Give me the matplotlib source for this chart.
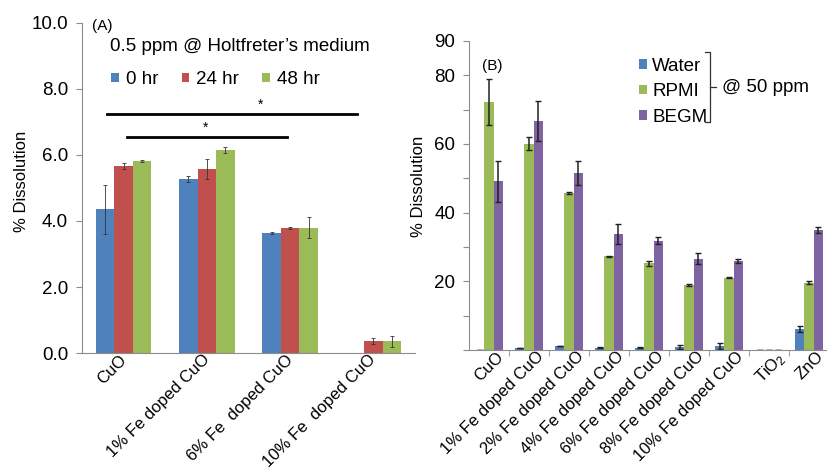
import matplotlib
matplotlib.use("Agg")
import matplotlib.pyplot as plt
import matplotlib.transforms as mtrans
import numpy as np

plt.rcParams['font.family'] = ['Liberation Sans', 'DejaVu Sans']
plt.rcParams['mathtext.default'] = 'regular'

# panel A: 0.5 ppm in Holtfreter's medium
cats_a = ["CuO", "1% Fe doped CuO", "6% Fe  doped CuO", "10% Fe  doped CuO"]
hr0 = [4.35, 5.27, 3.63, 0.0]
hr0_err = [0.73, 0.08, 0.03, 0.0]
hr24 = [5.67, 5.57, 3.80, 0.36]
hr24_err = [0.10, 0.30, 0.03, 0.10]
hr48 = [5.81, 6.15, 3.80, 0.36]
hr48_err = [0.03, 0.08, 0.33, 0.17]

# panel B: 50 ppm in three media
cats_b = ["CuO", "1% Fe doped CuO", "2% Fe doped CuO", "4% Fe doped CuO",
          "6% Fe doped CuO", "8% Fe doped CuO", "10% Fe doped CuO",
          "TiO$_2$", "ZnO"]
water = [0.1, 0.6, 1.2, 0.7, 0.7, 0.8, 1.2, 0.0, 6.1]
water_err = [0.0, 0.1, 0.1, 0.1, 0.1, 0.6, 0.8, 0.0, 0.8]
rpmi = [72.2, 60.1, 45.7, 27.3, 25.2, 19.0, 21.1, 0.0, 19.6]
rpmi_err = [6.8, 2.0, 0.4, 0.2, 0.8, 0.3, 0.2, 0.0, 0.5]
begm = [49.1, 66.6, 51.5, 33.7, 31.8, 26.6, 25.9, 0.0, 35.0]
begm_err = [6.0, 5.8, 3.4, 2.9, 1.0, 1.6, 0.5, 0.0, 0.8]

blue = '#4F81BD'
red = '#C0504D'
green = '#9BBB59'
purple = '#8064A2'
grey = '#8c8c8c'
fs = 13.5
cat_fs = 12

fig = plt.figure(figsize=(8.27, 4.72), dpi=100)


def shift_labels(ax, dx, dy):
    # nudge the rotated category labels (dx, dy in pixels)
    off = mtrans.ScaledTranslation(dx / 100, dy / 100, fig.dpi_scale_trans)
    for lab in ax.get_xticklabels():
        lab.set_transform(lab.get_transform() + off)


# ---------------- panel A ----------------
axA = fig.add_axes([0.0992, 0.2521, 0.4026, 0.6992])
x = np.arange(len(cats_a))
w = 0.222
ekw = dict(elinewidth=0.6, capsize=1.5, capthick=0.6, ecolor='#333333')
axA.bar(x - w, hr0, w, yerr=hr0_err, color=blue, label='0 hr', error_kw=ekw)
axA.bar(x, hr24, w, yerr=hr24_err, color=red, label='24 hr', error_kw=ekw)
axA.bar(x + w, hr48, w, yerr=hr48_err, color=green, label='48 hr', error_kw=ekw)

axA.set_xlim(-0.5, 3.5)
axA.set_ylim(0, 10)
axA.set_yticks(np.arange(0, 10.1, 2))
axA.set_yticklabels(["%.1f" % v for v in np.arange(0, 10.1, 2)], fontsize=fs)
axA.set_xticks(x)
axA.set_xticklabels(cats_a, rotation=45, ha='right', va='top',
                    rotation_mode='anchor', fontsize=cat_fs)
axA.tick_params(axis='x', length=0, pad=0)
axA.tick_params(axis='y', length=4, color=grey, pad=6)
shift_labels(axA, -5, 1)
for s in ['top', 'right']:
    axA.spines[s].set_visible(False)
for s in ['left', 'bottom']:
    axA.spines[s].set_color(grey)
axA.set_ylabel('% Dissolution', fontsize=12, labelpad=2)
axA.yaxis.label.set_y(0.52)

# significance bars
axA.plot([-0.2, 2.8], [7.24, 7.24], color='black', lw=2)
axA.text(1.64, 7.32, '*', ha='center', va='bottom', fontsize=10)
axA.plot([0.04, 1.96], [6.54, 6.54], color='black', lw=2)
axA.text(0.98, 6.62, '*', ha='center', va='bottom', fontsize=10)

axA.text(0.03, 0.99, '(A)', transform=axA.transAxes, fontsize=11, va='center')
axA.text(0.085, 0.93, "0.5 ppm @ Holtfreter\u2019s medium",
         transform=axA.transAxes, fontsize=fs, va='center')
axA.legend(loc='upper left', bbox_to_anchor=(0.037, 0.905), ncol=3,
           frameon=False, fontsize=fs, handlelength=0.42, handleheight=0.42,
           handletextpad=0.35, columnspacing=1.25)

# ---------------- panel B ----------------
axB = fig.add_axes([0.5671, 0.2585, 0.4353, 0.6547])
xb = np.arange(len(cats_b))
wb = 0.233
ekw_b = dict(elinewidth=1.1, capsize=2.5, capthick=1.0, ecolor='#222222')
axB.bar(xb - wb, water, wb, yerr=water_err, color=blue, label='Water',
        error_kw=ekw_b)
axB.bar(xb, rpmi, wb, yerr=rpmi_err, color=green, label='RPMI', error_kw=ekw_b)
axB.bar(xb + wb, begm, wb, yerr=begm_err, color=purple, label='BEGM',
        error_kw=ekw_b)

axB.set_xlim(-0.5, 8.5)
axB.set_ylim(0, 90)
yt = np.arange(0, 91, 10)
axB.set_yticks(yt)
axB.set_yticklabels([str(v) if v in (20, 40, 60, 80, 90) else '' for v in yt],
                    fontsize=fs)
axB.set_xticks(xb)
axB.set_xticklabels(cats_b, rotation=45, ha='right', va='top',
                    rotation_mode='anchor', fontsize=cat_fs)
axB.set_xticks(np.arange(0.5, 8.5, 1), minor=True)
axB.tick_params(axis='x', which='major', length=0, pad=0)
axB.tick_params(axis='x', which='minor', length=4, color=grey)
axB.tick_params(axis='y', length=4, color=grey, pad=6)
shift_labels(axB, 7, 1)
for s in ['top', 'right']:
    axB.spines[s].set_visible(False)
for s in ['left', 'bottom']:
    axB.spines[s].set_color(grey)
axB.set_ylabel('% Dissolution', fontsize=12, labelpad=6)
axB.yaxis.label.set_y(0.53)

axB.text(0.035, 0.92, '(B)', transform=axB.transAxes, fontsize=11,
         va='center')
axB.legend(loc='upper left', bbox_to_anchor=(0.425, 1.0), frameon=False,
           fontsize=fs, handlelength=0.42, handleheight=0.42,
           handletextpad=0.3, labelspacing=0.45)

# bracket grouping the legend entries
bx = 710 / 827
y_top = 1 - 52 / 472
y_bot = 1 - 122 / 472
y_mid = 1 - 87 / 472
dx = 5 / 827
fig.add_artist(plt.Line2D([bx - dx, bx, bx, bx - dx], [y_top, y_top, y_bot, y_bot],
                          color='#333333', lw=0.9, transform=fig.transFigure))
fig.add_artist(plt.Line2D([bx, bx + 1.2 * dx], [y_mid, y_mid], color='#333333',
                          lw=0.9, transform=fig.transFigure))
fig.text(722 / 827, y_mid, '@ 50 ppm', fontsize=fs, va='center')

fig.savefig('out.png', dpi=100)
